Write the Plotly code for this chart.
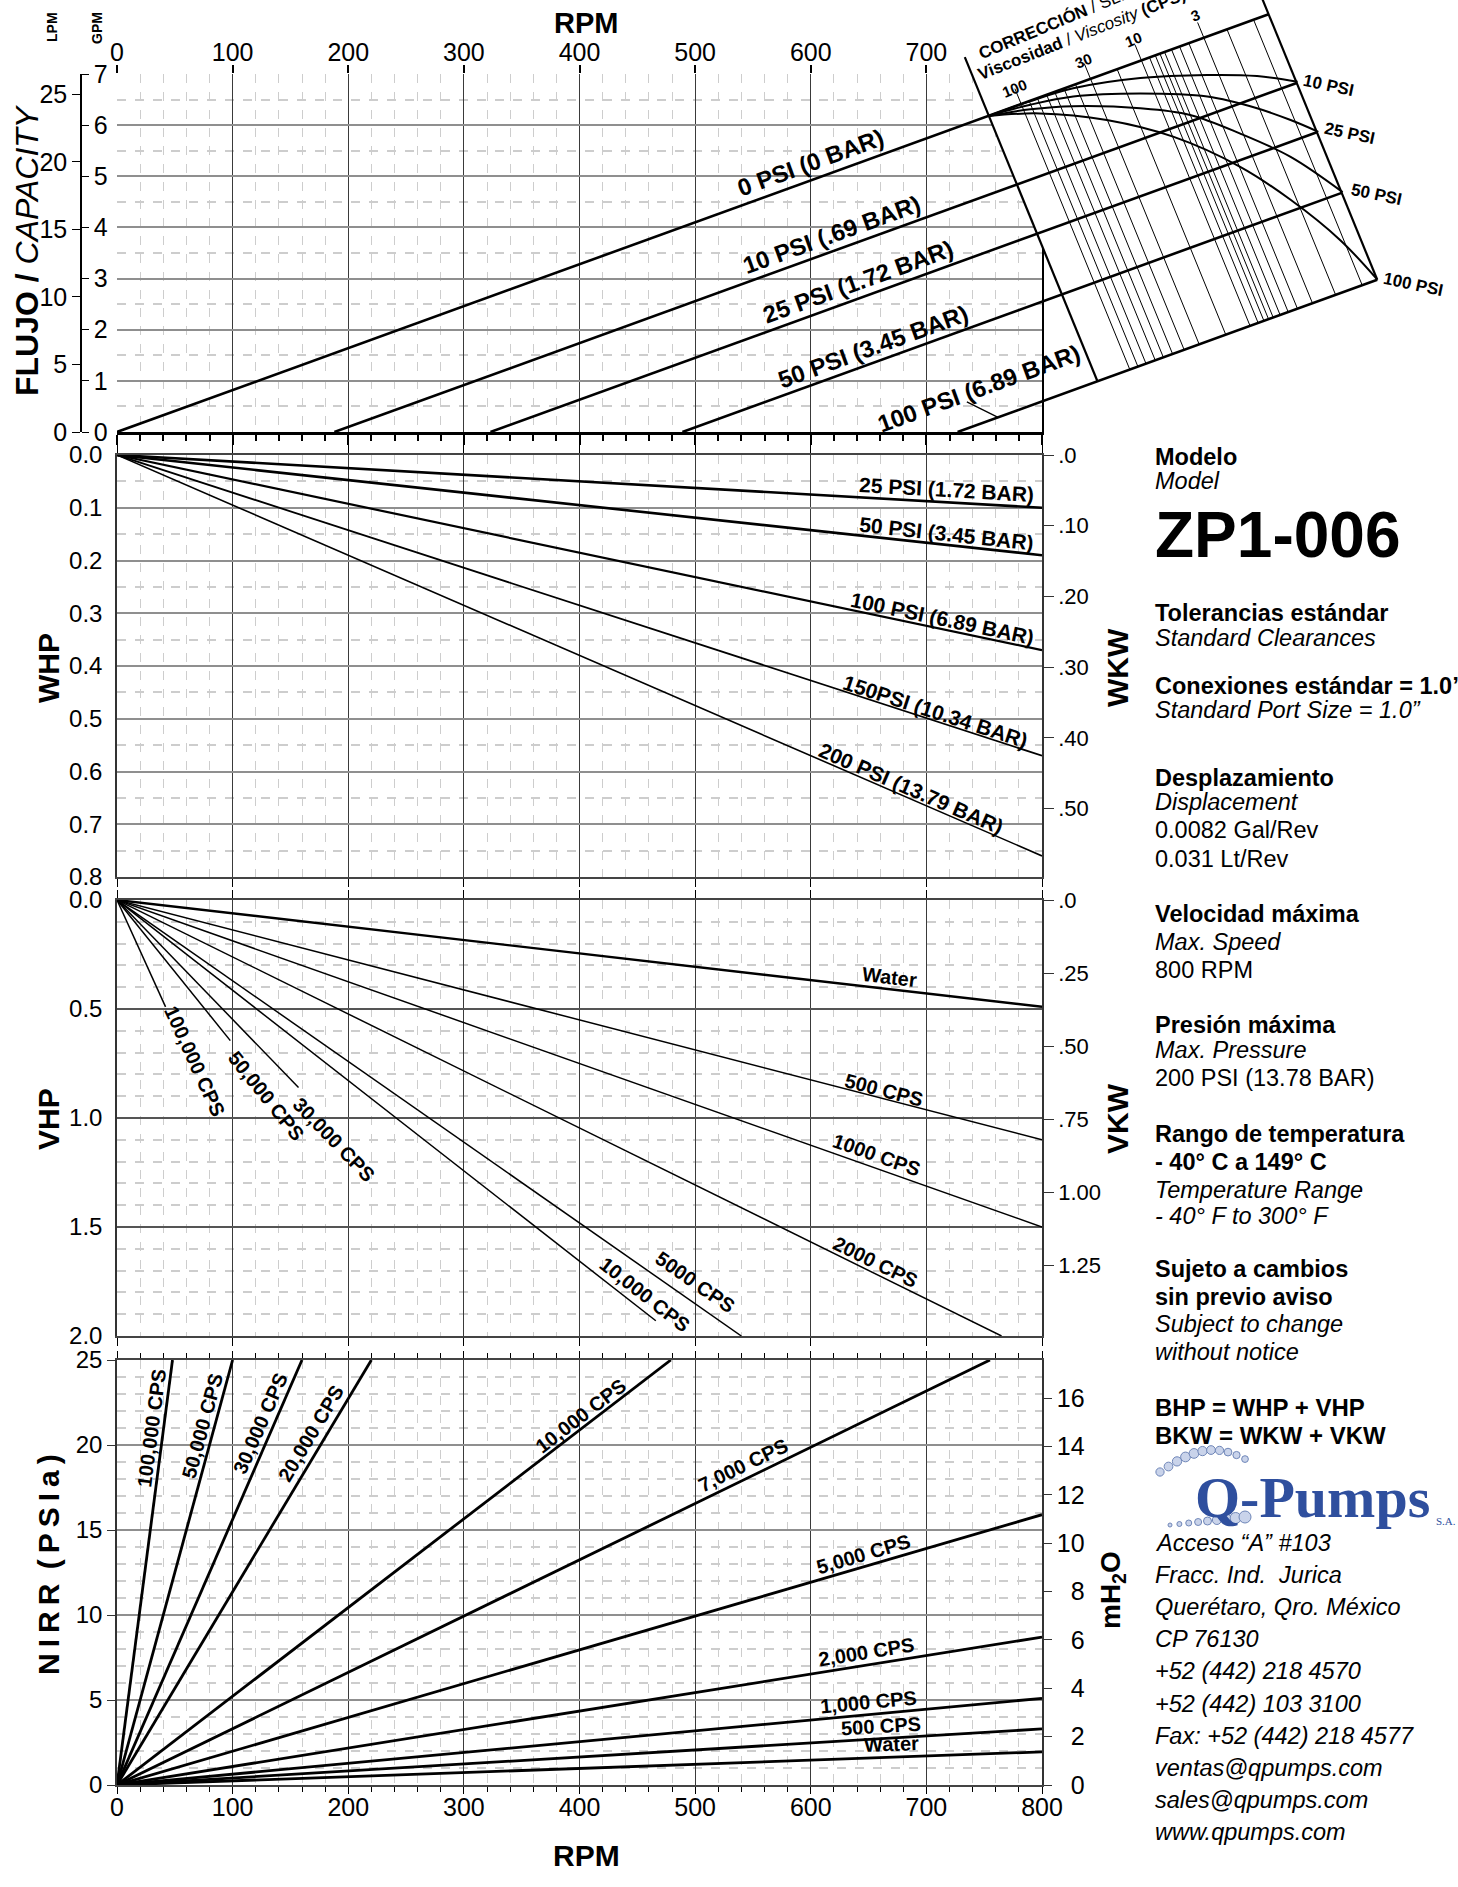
import math
import plotly.graph_objects as go

W, H = 1458, 1887

# ===================== DATA =====================
RPM_TICKS = [0, 100, 200, 300, 400, 500, 600, 700, 800]
TOP_RPM_TICKS = [0, 100, 200, 300, 400, 500, 600, 700]
GPM_TICKS = [0, 1, 2, 3, 4, 5, 6, 7]
LPM_TICKS = [0, 5, 10, 15, 20, 25]
LPM_PER_GPM = 3.785

# capacity vs rpm (straight lines of slope = displacement, shifted by slip)
DISPLACEMENT = 0.0082          # GPM per RPM (0.0082 Gal/Rev)
CAP_NAMES = ["0 PSI (0 BAR)", "10 PSI (.69 BAR)", "25 PSI (1.72 BAR)",
             "50 PSI (3.45 BAR)", "100 PSI (6.89 BAR)"]
CAP_ZERO_FLOW_RPM = [0, 188, 323, 489, 727]

# slip / viscosity correction nomograph
BOX_TOP_LEFT_RPM = 754
BOX_TOP_RIGHT_RPM = 996
BOX_EDGE_RPM_PER_GPM = -18.1
VISC_LINE_TOP_RPM = [782, 789, 796, 804, 811, 819, 829, 842, 865, 886, 893,
                     898, 902, 906, 912, 919, 927, 940, 960, 983]
VISC_TICK_TEXT = ["100", "30", "10", "3"]
VISC_TICK_RPM = [782, 842, 886, 940]
EDGE_PSI_TEXT = ["10 PSI", "25 PSI", "50 PSI", "100 PSI"]

CURVE_10_RPM = [754, 790, 827, 885, 943, 986, 1021]
CURVE_10_GPM = [6.18, 6.47, 6.72, 6.92, 6.98, 6.96, 6.85]
CURVE_25_RPM = [754, 790, 827, 885, 943, 986, 1015, 1039]
CURVE_25_GPM = [6.18, 6.40, 6.56, 6.62, 6.56, 6.33, 6.10, 5.87]
CURVE_50_RPM = [754, 790, 827, 885, 928, 971, 1015, 1060]
CURVE_50_GPM = [6.18, 6.31, 6.37, 6.33, 6.20, 5.84, 5.38, 4.69]
CURVE_100_RPM = [754, 798, 856, 914, 971, 1015, 1058, 1090]
CURVE_100_GPM = [6.18, 6.23, 6.10, 5.77, 5.19, 4.54, 3.75, 2.98]

# water horsepower
WHP_NAMES = ["25 PSI (1.72 BAR)", "50 PSI (3.45 BAR)", "100 PSI (6.89 BAR)",
             "150PSI (10.34 BAR)", "200 PSI (13.79 BAR)"]
WHP_AT_800 = [0.10, 0.19, 0.37, 0.57, 0.76]
WHP_TICKS = [0.0, 0.1, 0.2, 0.3, 0.4, 0.5, 0.6, 0.7, 0.8]
WKW_TICKS = [0.0, 0.10, 0.20, 0.30, 0.40, 0.50]
WKW_TEXT = [".0", ".10", ".20", ".30", ".40", ".50"]
HP_TO_KW = 0.7457

# viscous horsepower
VHP_NAMES = ["Water", "500 CPS", "1000 CPS", "2000 CPS", "5000 CPS",
             "10,000 CPS", "30,000 CPS", "50,000 CPS", "100,000 CPS"]
VHP_END_RPM = [800, 800, 800, 765, 540, 466, 157, 98, 42]
VHP_END_HP = [0.49, 1.10, 1.50, 2.00, 2.00, 1.93, 0.86, 0.645, 0.49]
VHP_TICKS = [0.0, 0.5, 1.0, 1.5, 2.0]
VKW_TICKS = [0.0, 0.25, 0.50, 0.75, 1.00, 1.25]
VKW_TEXT = [".0", ".25", ".50", ".75", "1.00", "1.25"]

# net inlet pressure required
NIRR_NAMES = ["100,000 CPS", "50,000 CPS", "30,000 CPS", "20,000 CPS",
              "10,000 CPS", "7,000 CPS", "5,000 CPS", "2,000 CPS",
              "1,000 CPS", "500 CPS", "Water"]
NIRR_END_RPM = [48, 100, 160, 220, 479, 755, 800, 800, 800, 800, 800]
NIRR_END_PSI = [25, 25, 25, 25, 25, 25, 15.9, 8.7, 5.1, 3.3, 1.95]
NIRR_TICKS = [0, 5, 10, 15, 20, 25]
MH2O_TICKS = [0, 2, 4, 6, 8, 10, 12, 14, 16]
PSI_PER_MH2O = 1.4223

# ===================== LAYOUT CONSTANTS =====================
X_LEFT, X_RIGHT = 117, 1042
CAP_TOP, CAP_BOT = 74, 432
WHP_TOP, WHP_BOT = 455, 877
VHP_TOP, VHP_BOT = 900, 1336
NIRR_TOP, NIRR_BOT = 1360, 1785
PPX = (X_RIGHT - X_LEFT) / 800.0
PPG = (CAP_BOT - CAP_TOP) / 7.0
PPW = (WHP_BOT - WHP_TOP) / 0.8
PPV = (VHP_BOT - VHP_TOP) / 2.0
PPN = (NIRR_BOT - NIRR_TOP) / 25.0

NARROW = "Liberation Sans Narrow, Arial Narrow, Liberation Sans, Arial, sans-serif"
SANS = "Liberation Sans, Arial, Helvetica, sans-serif"

# label positions (data units of each panel)
CAP_LABEL_POS = [(600, 5.26), (618, 3.87), (641, 2.94), (654, 1.68), (745, 0.86)]
LEADER_RPM = [735, 762]
LEADER_START_GPM = 0.59
VISC_LABEL_POS = [(775.8, 6.72), (836.3, 7.27), (878.9, 7.68), (932.3, 8.15)]
EDGE_LABEL_POS = [(1048, 6.78), (1066, 5.83), (1089, 4.65), (1121, 2.89)]
WHP_LABEL_POS = [(717, 0.066), (717, 0.148), (714, 0.31), (708, 0.487), (687, 0.632)]
VHP_LABEL_POS = [(668, 0.355), (663, 0.87), (657, 1.17), (656, 1.66), (500, 1.75),
                 (457, 1.81), (188, 1.10), (129, 0.90), (67, 0.74)]
NIRR_LABEL_POS = [(30, 21.0), (74, 21.1), (124, 21.3), (168, 20.7), (401, 21.7),
                  (542, 18.8), (646, 13.6), (648, 7.8), (650, 4.9), (661, 3.45), (670, 2.4)]


def xd(left=X_LEFT, right=X_RIGHT):
    return [left / W, right / W]


def yd(top, bot):
    return [1 - bot / H, 1 - top / H]


def ang(dx, dy, px, py):
    return math.degrees(math.atan2(dy * py, dx * px))


fig = go.Figure()
NOHOVER = dict(hoverinfo="skip", showlegend=False)

# dummy traces so every axis pair is materialised
for xa, ya in [("x", "y"), ("x2", "y"), ("x", "y2"), ("x", "y3"), ("x3", "y5"),
               ("x4", "y7"), ("x5", "y9")]:
    fig.add_trace(go.Scatter(x=[None], y=[None], xaxis=xa, yaxis=ya, mode="lines", **NOHOVER))

# ---------------- WHP panel ----------------
for i, v in enumerate(WHP_AT_800):
    fig.add_trace(go.Scatter(x=[0, 800], y=[0, v], xaxis="x3", yaxis="y4", mode="lines",
                             line=dict(color="black", width=[2.6, 2.6, 2.2, 1.8, 1.6][i]), **NOHOVER))
annotations = []
for i, name in enumerate(WHP_NAMES):
    a = ang(800, WHP_AT_800[i], PPX, PPW)
    annotations.append(dict(x=WHP_LABEL_POS[i][0], y=WHP_LABEL_POS[i][1], xref="x3", yref="y4",
                            text="<b>%s</b>" % name, textangle=a, showarrow=False,
                            font=dict(family=NARROW, size=21, color="black")))

# ---------------- VHP panel ----------------
for i, name in enumerate(VHP_NAMES):
    fig.add_trace(go.Scatter(x=[0, VHP_END_RPM[i]], y=[0, VHP_END_HP[i]], xaxis="x4", yaxis="y6",
                             mode="lines", line=dict(color="black", width=2.4 if i == 0 else 1.5),
                             **NOHOVER))
    a = ang(VHP_END_RPM[i], VHP_END_HP[i], PPX, PPV)
    annotations.append(dict(x=VHP_LABEL_POS[i][0], y=VHP_LABEL_POS[i][1], xref="x4", yref="y6",
                            text="<b>%s</b>" % name, textangle=a, showarrow=False,
                            font=dict(family=NARROW, size=20, color="black")))

# ---------------- NIRR panel ----------------
for i, name in enumerate(NIRR_NAMES):
    fig.add_trace(go.Scatter(x=[0, NIRR_END_RPM[i]], y=[0, NIRR_END_PSI[i]], xaxis="x5", yaxis="y8",
                             mode="lines", line=dict(color="black", width=2.8), **NOHOVER))
    a = ang(NIRR_END_RPM[i], NIRR_END_PSI[i], PPX, PPN)
    annotations.append(dict(x=NIRR_LABEL_POS[i][0], y=NIRR_LABEL_POS[i][1], xref="x5", yref="y8",
                            text="<b>%s</b>" % name, textangle=-a, showarrow=False,
                            font=dict(family=NARROW, size=20, color="black")))

# ---------------- capacity panel + nomograph (overlay axes x6/y10) ----------------
D = DISPLACEMENT
K = BOX_EDGE_RPM_PER_GPM


def edge_hit(r0, g0, zero_rpm):
    """intersection of slanted edge through (r0,g0) with pressure line g = D*(r-zero)"""
    r = (r0 - K * D * zero_rpm - K * g0) / (1 - K * D)
    return r, D * (r - zero_rpm)


g_tl = D * BOX_TOP_LEFT_RPM
g_tr = D * BOX_TOP_RIGHT_RPM
bl = edge_hit(BOX_TOP_LEFT_RPM, g_tl, CAP_ZERO_FLOW_RPM[-1])
br = edge_hit(BOX_TOP_RIGHT_RPM, g_tr, CAP_ZERO_FLOW_RPM[-1])
g_hi = 8.8
poly_x = [BOX_TOP_LEFT_RPM + K * (g_hi - g_tl), bl[0], br[0], BOX_TOP_RIGHT_RPM + K * (g_hi - g_tr)]
poly_y = [g_hi, bl[1], br[1], g_hi]
fig.add_trace(go.Scatter(x=poly_x + [poly_x[0]], y=poly_y + [poly_y[0]], xaxis="x6", yaxis="y10",
                         mode="lines", fill="toself", fillcolor="white",
                         line=dict(color="rgba(0,0,0,0)", width=0), **NOHOVER))

# viscosity lines
for r in VISC_LINE_TOP_RPM:
    end = edge_hit(r, D * r, CAP_ZERO_FLOW_RPM[-1])
    fig.add_trace(go.Scatter(x=[r, end[0]], y=[D * r, end[1]], xaxis="x6", yaxis="y10", mode="lines",
                             line=dict(color="black", width=1), **NOHOVER))
for r in VISC_TICK_RPM:
    fig.add_trace(go.Scatter(x=[r, r + K * 0.3], y=[D * r, D * r + 0.3], xaxis="x6", yaxis="y10",
                             mode="lines", line=dict(color="black", width=1), **NOHOVER))

# box edges
left_top_g = 7.33
fig.add_trace(go.Scatter(x=[BOX_TOP_LEFT_RPM + K * (left_top_g - g_tl), bl[0]], y=[left_top_g, bl[1]],
                         xaxis="x6", yaxis="y10", mode="lines", line=dict(color="black", width=2.2),
                         **NOHOVER))
fig.add_trace(go.Scatter(x=[BOX_TOP_RIGHT_RPM + K * (g_hi - g_tr), br[0]], y=[g_hi, br[1]],
                         xaxis="x6", yaxis="y10", mode="lines", line=dict(color="black", width=2.2),
                         **NOHOVER))

# pressure lines
for i, z in enumerate(CAP_ZERO_FLOW_RPM):
    if i == 0:
        r_end = BOX_TOP_RIGHT_RPM
    else:
        r_end = edge_hit(BOX_TOP_RIGHT_RPM, g_tr, z)[0]
    fig.add_trace(go.Scatter(x=[z, r_end], y=[0, D * (r_end - z)], xaxis="x6", yaxis="y10",
                             mode="lines", line=dict(color="black", width=2.6), **NOHOVER))

# correction curves
for cx, cy in [(CURVE_10_RPM, CURVE_10_GPM), (CURVE_25_RPM, CURVE_25_GPM),
               (CURVE_50_RPM, CURVE_50_GPM), (CURVE_100_RPM, CURVE_100_GPM)]:
    fig.add_trace(go.Scatter(x=cx, y=cy, xaxis="x6", yaxis="y10", mode="lines",
                             line=dict(color="black", width=2, shape="spline", smoothing=1.0),
                             **NOHOVER))

# leader for the 100 PSI label
fig.add_trace(go.Scatter(x=LEADER_RPM, y=[LEADER_START_GPM, D * (LEADER_RPM[1] - CAP_ZERO_FLOW_RPM[-1])],
                         xaxis="x6", yaxis="y10", mode="lines", line=dict(color="black", width=1.3),
                         **NOHOVER))

cap_angle = ang(1, D, PPX, PPG)
for i, name in enumerate(CAP_NAMES):
    annotations.append(dict(x=CAP_LABEL_POS[i][0], y=CAP_LABEL_POS[i][1], xref="x6", yref="y10",
                            text="<b>%s</b>" % name, textangle=-cap_angle, showarrow=False,
                            font=dict(family=NARROW, size=24, color="black")))
for i, t in enumerate(VISC_TICK_TEXT):
    annotations.append(dict(x=VISC_LABEL_POS[i][0], y=VISC_LABEL_POS[i][1], xref="x6", yref="y10",
                            text="<b>%s</b>" % t, textangle=-22, showarrow=False,
                            font=dict(family=SANS, size=15, color="black")))
for i, t in enumerate(EDGE_PSI_TEXT):
    annotations.append(dict(x=EDGE_LABEL_POS[i][0], y=EDGE_LABEL_POS[i][1], xref="x6", yref="y10",
                            text="<b>%s</b>" % t, textangle=12, showarrow=False,
                            font=dict(family=NARROW, size=17, color="black")))
annotations.append(dict(x=(1056 - X_LEFT) / PPX, y=(CAP_BOT - 22) / PPG, xref="x6", yref="y10",
                        text="<b>CORRECCIÓN</b> / SLIP", textangle=-22.7, showarrow=False,
                        font=dict(family=SANS, size=17, color="black")))
annotations.append(dict(x=(1081.6 - X_LEFT) / PPX, y=(CAP_BOT - 34.3) / PPG, xref="x6", yref="y10",
                        text="<b>Viscosidad</b> / <i>Viscosity</i> <b>(CPS)</b>", textangle=-21.5,
                        showarrow=False, font=dict(family=SANS, size=17, color="black")))

# ---------------- axis titles and side texts (paper) ----------------
def pa(text, px, py, size, family=SANS, angle=0, xanchor="center", color="black"):
    annotations.append(dict(x=px / W, y=1 - py / H, xref="paper", yref="paper", text=text,
                            textangle=angle, showarrow=False, xanchor=xanchor, yanchor="middle",
                            font=dict(family=family, size=size, color=color)))


pa("<b>RPM</b>", 586, 23, 29, NARROW)
pa("<b>RPM</b>", 586, 1855, 30, NARROW)
pa("<b>FLUJO / </b><i>CAPACITY</i>", 27, 250, 32, SANS, -90)
pa("<b>LPM</b>", 52, 27, 14, SANS, -90)
pa("<b>GPM</b>", 97, 28, 14, SANS, -90)
pa("<b>WHP</b>", 48, 668, 30, SANS, -90)
pa("<b>VHP</b>", 48, 1119, 30, SANS, -90)
pa("<b>N\u2009I\u2009R\u2009R\u2009 (\u2009P\u2009S\u2009I\u2009a\u2009)</b>", 48, 1565, 30, SANS, -90)
pa("<b>WKW</b>", 1117, 668, 30, NARROW, -90)
pa("<b>VKW</b>", 1117, 1119, 30, NARROW, -90)
pa("<b>mH<sub>2</sub>O</b>", 1112, 1590, 28, SANS, -90)

TX = 1153
HS = 23.5
side = [
    ("<b>Modelo</b>", 457, HS), ("<i>Model</i>", 481, HS),
    ("<b>ZP1-006</b>", 535, 64),
    ("<b>Tolerancias estándar</b>", 613, HS), ("<i>Standard Clearances</i>", 638, HS),
    ("<b>Conexiones estándar = 1.0\u201d</b>", 686, HS), ("<i>Standard Port Size = 1.0\u201d</i>", 710, HS),
    ("<b>Desplazamiento</b>", 778, HS), ("<i>Displacement</i>", 802, HS),
    ("0.0082 Gal/Rev", 830, HS), ("0.031 Lt/Rev", 859, HS),
    ("<b>Velocidad máxima</b>", 914, HS), ("<i>Max. Speed</i>", 942, HS), ("800 RPM", 970, HS),
    ("<b>Presión máxima</b>", 1025, HS), ("<i>Max. Pressure</i>", 1050, HS),
    ("200 PSI (13.78 BAR)", 1078, HS),
    ("<b>Rango de temperatura</b>", 1134, HS), ("<b>- 40° C a 149° C</b>", 1162, HS),
    ("<i>Temperature Range</i>", 1190, HS), ("<i>- 40° F to 300° F</i>", 1216, HS),
    ("<b>Sujeto a cambios</b>", 1269, HS), ("<b>sin previo aviso</b>", 1297, HS),
    ("<i>Subject to change</i>", 1324, HS), ("<i>without notice</i>", 1352, HS),
    ("<b>BHP = WHP + VHP</b>", 1407, 24), ("<b>BKW = WKW + VKW</b>", 1435, 24),
]
for t, py, s in side:
    pa(t, TX, py, s, SANS, 0, "left")
addr = ["Acceso \u201cA\u201d #103", "Fracc. Ind.  Jurica", "Querétaro, Qro. México", "CP 76130",
        "+52 (442) 218 4570", "+52 (442) 103 3100", "Fax: +52 (442) 218 4577",
        "ventas@qpumps.com", "sales@qpumps.com", "www.qpumps.com"]
for i, t in enumerate(addr):
    pa("<i>%s</i>" % t, TX, 1543 + 32.1 * i, 23.5, SANS, 0, "left")

# logo
pa("<b>Q-Pumps</b>", 1312, 1497, 58, "Liberation Serif, Times New Roman, serif", 0, "center", "#2f4f9e")
pa("S.A. de C.V", 1434, 1521, 11, "Liberation Serif, serif", 0, "left", "#2f4f9e")
shapes = []
for k in range(11):
    t = k / 10.0
    cx = 1160 + 85 * t
    cy = 1472 - 22 * math.sin(math.pi * t * 0.8)
    r = 2.5 + 2.5 * (1 - abs(t - 0.35))
    shapes.append(dict(type="circle", xref="paper", yref="paper",
                       x0=(cx - r) / W, x1=(cx + r) / W, y0=1 - (cy + r) / H, y1=1 - (cy - r) / H,
                       line=dict(color="#6f86b8", width=1), fillcolor="#c9d3ea"))
for k in range(9):
    t = k / 8.0
    cx = 1170 + 75 * t
    cy = 1525 - 8 * t
    r = 2 + 4 * t
    shapes.append(dict(type="circle", xref="paper", yref="paper",
                       x0=(cx - r) / W, x1=(cx + r) / W, y0=1 - (cy + r) / H, y1=1 - (cy - r) / H,
                       line=dict(color="#6f86b8", width=1), fillcolor="#c9d3ea"))

# ---------------- axes ----------------
TICKF = dict(family=NARROW, size=24, color="black")
RTICKF = dict(family=SANS, size=22, color="black")
VMAJ = dict(showgrid=True, gridcolor="#3a3a3a", gridwidth=1.1)
VMIN = dict(dtick=20, showgrid=True, gridcolor="#cdcdcd", griddash="dash", gridwidth=1)
common_x = dict(range=[0, 800], zeroline=False, fixedrange=True, automargin=False)
NOAM = dict(automargin=False)

layout = dict(
    width=W, height=H, margin=dict(l=0, r=0, t=0, b=0, pad=0, autoexpand=False), autosize=False,
    paper_bgcolor="white", plot_bgcolor="rgba(0,0,0,0)", showlegend=False,
    font=dict(family=SANS, color="black"),
    annotations=annotations, shapes=shapes,
    # capacity panel
    xaxis=dict(domain=xd(), anchor="y", side="top", tickvals=TOP_RPM_TICKS, ticks="outside", ticklen=8,
               tickwidth=1.5, tickcolor="black", showline=False, ticklabelstandoff=-6,
               tickfont=dict(family=NARROW, size=25, color="black"),
               minor=VMIN, **VMAJ, **common_x),
    yaxis=dict(domain=yd(CAP_TOP, CAP_BOT), anchor="x", side="right", range=[0, 7], dtick=1,
               showticklabels=False, ticks="", showgrid=True, gridcolor="#8f8f8f", gridwidth=2,
               minor=dict(dtick=0.5, showgrid=True, gridcolor="#cdcdcd", griddash="dash"),
               showline=True, linecolor="black", linewidth=2, zeroline=False, **NOAM),
    xaxis2=dict(overlaying="x", anchor="y", side="bottom", tickvals=RPM_TICKS, showticklabels=False,
                ticks="outside", ticklen=10, tickwidth=1.5, tickcolor="black", showline=True,
                linewidth=2.6, linecolor="black", showgrid=False,
                minor=dict(dtick=20, ticks="outside", ticklen=6, tickcolor="black", showgrid=False),
                **common_x),
    yaxis2=dict(overlaying="y", anchor="free", position=81 / W, side="right", range=[0, 7],
                tickvals=GPM_TICKS, ticks="outside", ticklen=7, tickcolor="black", showline=True,
                linewidth=1.5, linecolor="black", showgrid=False, zeroline=False,
                tickfont=dict(family=NARROW, size=25, color="black"), **NOAM),
    yaxis3=dict(overlaying="y", anchor="free", position=81 / W, side="left",
                range=[0, 7 * LPM_PER_GPM], tickvals=LPM_TICKS, ticks="outside", ticklen=8,
                tickcolor="black", showline=True, linewidth=1.5, linecolor="black", showgrid=False,
                zeroline=False, tickfont=dict(family=NARROW, size=25, color="black"), **NOAM),
    # WHP panel
    xaxis3=dict(domain=xd(), anchor="y4", tickvals=RPM_TICKS, showticklabels=False, ticks="outside",
                ticklen=8, tickcolor="black", mirror="ticks", showline=True, linecolor="#444",
                linewidth=1.5, minor=VMIN, **VMAJ, **common_x),
    yaxis4=dict(domain=yd(WHP_TOP, WHP_BOT), anchor="x3", range=[0.8, 0], tickvals=WHP_TICKS,
                ticktext=["%.1f" % v for v in WHP_TICKS], ticks="", showline=True, linecolor="#333",
                linewidth=1.5, showgrid=True, gridcolor="#8f8f8f", gridwidth=2, zeroline=False,
                minor=dict(dtick=0.05, showgrid=True, gridcolor="#cdcdcd", griddash="dash"),
                tickfont=TICKF, ticklabelstandoff=8, **NOAM),
    yaxis5=dict(overlaying="y4", anchor="x3", side="right", range=[0.8 * HP_TO_KW, 0],
                tickvals=WKW_TICKS, ticktext=WKW_TEXT, ticks="outside", ticklen=10, tickcolor="#333",
                showline=True, linecolor="#333", linewidth=1.5, showgrid=False, zeroline=False,
                tickfont=RTICKF, **NOAM),
    # VHP panel
    xaxis4=dict(domain=xd(), anchor="y6", tickvals=RPM_TICKS, showticklabels=False, ticks="outside",
                ticklen=8, tickcolor="black", mirror="ticks", showline=True, linecolor="#444",
                linewidth=1.5, minor=VMIN, **VMAJ, **common_x),
    yaxis6=dict(domain=yd(VHP_TOP, VHP_BOT), anchor="x4", range=[2, 0], tickvals=VHP_TICKS,
                ticktext=["%.1f" % v for v in VHP_TICKS], ticks="", showline=True, linecolor="#333",
                linewidth=1.5, showgrid=True, gridcolor="#555555", gridwidth=2, zeroline=False,
                minor=dict(dtick=0.1, showgrid=True, gridcolor="#cdcdcd", griddash="dash"),
                tickfont=TICKF, ticklabelstandoff=8, **NOAM),
    yaxis7=dict(overlaying="y6", anchor="x4", side="right", range=[2 * HP_TO_KW, 0],
                tickvals=VKW_TICKS, ticktext=VKW_TEXT, ticks="outside", ticklen=10, tickcolor="#333",
                showline=True, linecolor="#333", linewidth=1.5, showgrid=False, zeroline=False,
                tickfont=RTICKF, **NOAM),
    # NIRR panel
    xaxis5=dict(domain=xd(), anchor="y8", tickvals=RPM_TICKS, ticks="outside", ticklen=7,
                tickcolor="black", mirror="ticks", showline=True, linecolor="#444", linewidth=1.5,
                ticklabelstandoff=-8, tickfont=dict(family=NARROW, size=25, color="black"),
                minor=dict(dtick=20, showgrid=True, gridcolor="#cdcdcd", griddash="dash",
                           ticks="outside", ticklen=5, tickcolor="black"),
                **VMAJ, **common_x),
    yaxis8=dict(domain=yd(NIRR_TOP, NIRR_BOT), anchor="x5", range=[0, 25], tickvals=NIRR_TICKS,
                ticks="outside", ticklen=8, tickcolor="#333", showline=True, linecolor="#333",
                linewidth=1.5, showgrid=True, gridcolor="#8f8f8f", gridwidth=2, zeroline=False,
                minor=dict(dtick=1, showgrid=True, gridcolor="#cdcdcd", griddash="dash"),
                tickfont=TICKF, **NOAM),
    yaxis9=dict(overlaying="y8", anchor="x5", side="right", range=[0, 25 / PSI_PER_MH2O],
                tickvals=MH2O_TICKS,
                ticktext=[("\u00a0\u00a0%d" % v) if v < 10 else str(v) for v in MH2O_TICKS],
                ticks="outside", ticklen=8, tickcolor="#333", showline=True, linecolor="#333",
                linewidth=1.5, showgrid=False, zeroline=False,
                tickfont=dict(family=NARROW, size=25, color="black"), **NOAM),
    # nomograph overlay (same scale as capacity panel, extended)
    xaxis6=dict(domain=[X_LEFT / W, 1.0], anchor="y10", range=[0, (W - X_LEFT) / PPX], visible=False,
                fixedrange=True, **NOAM),
    yaxis10=dict(domain=[1 - CAP_BOT / H, 1.0], anchor="x6", range=[0, CAP_BOT / PPG], visible=False,
                 fixedrange=True, **NOAM),
)
fig.update_layout(**layout)

fig.write_html(
    "out.html",
    config={"displayModeBar": False, "responsive": False},
    post_script=("document.documentElement.style.margin='0';document.body.style.margin='0';"
                 "document.body.style.padding='0';document.documentElement.style.overflow='hidden';"
                 "document.body.style.overflow='hidden';"),
)
